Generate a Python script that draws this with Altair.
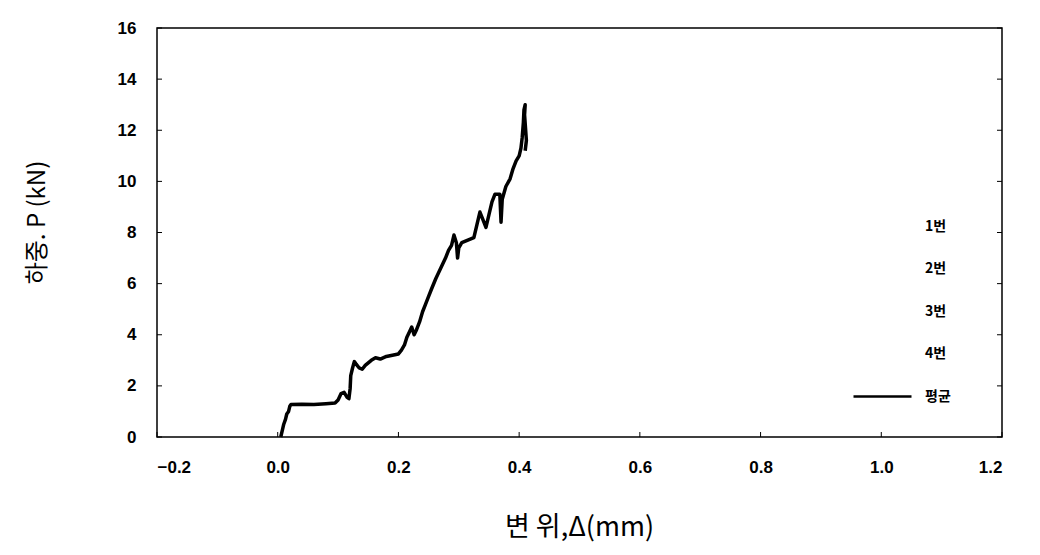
import altair as alt
import pandas as pd

# Load-displacement curve (average, "평균")
disp = [0.005, 0.008, 0.010, 0.013, 0.015, 0.018, 0.020, 0.022, 0.040, 0.060,
        0.080, 0.095, 0.100, 0.105, 0.110, 0.115, 0.118, 0.120, 0.121, 0.124,
        0.127, 0.130, 0.135, 0.140, 0.145, 0.150, 0.155, 0.162, 0.170, 0.180,
        0.190, 0.200, 0.205, 0.210, 0.214, 0.218, 0.222, 0.226, 0.230, 0.235,
        0.240, 0.245, 0.250, 0.255, 0.262, 0.270, 0.278, 0.283, 0.288, 0.292,
        0.296, 0.298, 0.300, 0.305, 0.315, 0.325, 0.330, 0.335, 0.340, 0.345,
        0.350, 0.355, 0.360, 0.368, 0.370, 0.372, 0.378, 0.385, 0.390, 0.395,
        0.400, 0.403, 0.405, 0.407, 0.408, 0.410, 0.409, 0.412, 0.410]
load = [0.00, 0.30, 0.50, 0.70, 0.90, 1.00, 1.20, 1.27, 1.28, 1.27,
        1.30, 1.33, 1.45, 1.70, 1.75, 1.55, 1.50, 1.90, 2.40, 2.70,
        2.95, 2.85, 2.70, 2.65, 2.80, 2.90, 3.00, 3.10, 3.05, 3.15,
        3.20, 3.25, 3.40, 3.60, 3.90, 4.10, 4.30, 4.00, 4.20, 4.50,
        4.90, 5.20, 5.50, 5.80, 6.20, 6.60, 7.00, 7.30, 7.50, 7.90,
        7.60, 7.00, 7.40, 7.60, 7.70, 7.80, 8.30, 8.80, 8.50, 8.20,
        8.70, 9.20, 9.50, 9.50, 8.40, 9.30, 9.80, 10.10, 10.50, 10.80,
        11.00, 11.30, 11.70, 12.30, 12.80, 13.00, 12.60, 11.60, 11.20]

series = ["1번", "2번", "3번", "4번", "평균"]
series_colors = ["white", "white", "white", "white", "black"]
x_ticks = [-0.2, 0.0, 0.2, 0.4, 0.6, 0.8, 1.0, 1.2]
y_ticks = [0, 2, 4, 6, 8, 10, 12, 14, 16]

df = pd.DataFrame({"i": list(range(len(disp))), "x": disp, "y": load, "s": "평균"})
xt = pd.DataFrame({"v": x_ticks})
yt = pd.DataFrame({"v": y_ticks})

xs = alt.Scale(domain=[-0.2, 1.2], nice=False, zero=False)
ys = alt.Scale(domain=[0, 16], nice=False)

LAB_FONT = "Liberation Sans"
KR_FONT = "Noto Sans CJK KR"

line = alt.Chart(df).mark_line(strokeWidth=3.5, strokeJoin="round").encode(
    x=alt.X("x:Q", scale=xs,
            axis=alt.Axis(values=x_ticks, format=".1f", title="변 위,Δ(mm)",
                          ticks=False, tickSize=0, domain=False, grid=False,
                          labelPadding=22, labelFontSize=17, labelFont=LAB_FONT,
                          labelFontWeight="bold", labelColor="black",
                          titleFont=KR_FONT, titleFontSize=27, titleFontWeight="normal",
                          titleColor="black", titleX=422, titleY=90,
                          titleAlign="center", titleBaseline="middle")),
    y=alt.Y("y:Q", scale=ys,
            axis=alt.Axis(values=y_ticks, format="d", title="하중. P (kN)",
                          ticks=False, tickSize=0, domain=False, grid=False,
                          labelPadding=21, labelFontSize=17, labelFont=LAB_FONT,
                          labelFontWeight="bold", labelColor="black",
                          titleFont=KR_FONT, titleFontSize=24, titleFontWeight="normal",
                          titleColor="black", titleX=-120, titleY=194, titleAngle=270,
                          titleAlign="center", titleBaseline="middle")),
    order="i:Q",
    stroke=alt.Stroke("s:N", scale=alt.Scale(domain=series, range=series_colors),
                      legend=alt.Legend(title=None, orient="none", legendX=695, legendY=168,
                                        symbolType="stroke", symbolSize=3364,
                                        symbolStrokeWidth=2.5, rowPadding=4.5, padding=0,
                                        labelFont=KR_FONT, labelFontSize=14,
                                        labelFontWeight="bold", labelColor="black",
                                        labelOffset=12)),
)

ytick_l = alt.Chart(yt).mark_rule(color="black", strokeWidth=1).encode(
    y=alt.Y("v:Q", scale=ys), x=alt.value(0), x2=alt.value(5))
ytick_r = alt.Chart(yt).mark_rule(color="black", strokeWidth=1).encode(
    y=alt.Y("v:Q", scale=ys), x=alt.value(840), x2=alt.value(845))
xtick_b = alt.Chart(xt).mark_rule(color="black", strokeWidth=1).encode(
    x=alt.X("v:Q", scale=xs), y=alt.value(404), y2=alt.value(409))

chart = alt.layer(line, ytick_l, ytick_r, xtick_b).properties(
    width=845, height=409,
    autosize=alt.AutoSizeParams(type="none"),
    padding={"left": 157, "top": 28, "right": 38, "bottom": 118},
    background="white",
).configure_view(stroke="black", strokeWidth=1.5)

chart.save("out.html", embed_options={"renderer": "svg", "actions": False})
